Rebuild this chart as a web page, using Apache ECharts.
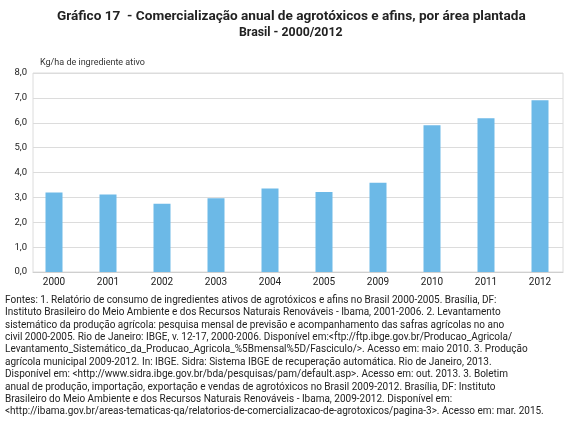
<!DOCTYPE html>
<html>
<head>
<meta charset="utf-8">
<script src="https://cdn.jsdelivr.net/npm/echarts@6/dist/echarts.min.js"></script>
<style>
html, body { margin: 0; padding: 0; background: #fff; }
#chart { width: 567px; height: 426px; }
</style>
</head>
<body>
<div id="chart"></div>
<script>
// anos e valores (kg/ha de ingrediente ativo)
var anos = ['2000', '2001', '2002', '2003', '2004', '2005', '2009', '2010', '2011', '2012'];
var valores = [3.2, 3.12, 2.74, 2.96, 3.36, 3.22, 3.59, 5.9, 6.18, 6.9];
var fontes = [
  'Fontes: 1. Relatório de consumo de ingredientes ativos de agrotóxicos e afins no Brasil 2000-2005. Brasília, DF:',
  'Instituto Brasileiro do Meio Ambiente e dos Recursos Naturais Renováveis - Ibama, 2001-2006. 2. Levantamento',
  'sistemático da produção agrícola: pesquisa mensal de previsão e acompanhamento das safras agrícolas no ano',
  'civil 2000-2005. Rio de Janeiro: IBGE, v. 12-17, 2000-2006. Disponível em:<ftp://ftp.ibge.gov.br/Producao_Agricola/',
  'Levantamento_Sistemático_da_Producao_Agricola_%5Bmensal%5D/Fasciculo/>. Acesso em: maio 2010. 3. Produção',
  'agrícola municipal 2009-2012. In: IBGE. Sidra: Sistema IBGE de recuperação automática. Rio de Janeiro, 2013.',
  'Disponível em: <http://www.sidra.ibge.gov.br/bda/pesquisas/pam/default.asp>. Acesso em: out. 2013. 3. Boletim',
  'anual de produção, importação, exportação e vendas de agrotóxicos no Brasil 2009-2012. Brasília, DF: Instituto',
  'Brasileiro do Meio Ambiente e dos Recursos Naturais Renováveis - Ibama, 2009-2012. Disponível em:',
  '<http://ibama.gov.br/areas-tematicas-qa/relatorios-de-comercializacao-de-agrotoxicos/pagina-3>. Acesso em: mar. 2015.'
];

var myChart = echarts.init(document.getElementById('chart'));
var fonte = 'Roboto, Arial, sans-serif';
var option = {
  backgroundColor: '#fff',
  animation: false,
  textStyle: { fontFamily: fonte },
  title: [
    { text: 'Gráfico 17  - Comercialização anual de agrotóxicos e afins, por área plantada', left: 57, top: 10, padding: 0,
      textStyle: { fontSize: 13.6, fontWeight: 'bold', color: '#222', fontFamily: fonte } },
    { text: 'Brasil - 2000/2012', left: 239, top: 27, padding: 0,
      textStyle: { fontSize: 12.3, fontWeight: 'bold', color: '#222', fontFamily: fonte } }
  ],
  grid: [
    // grade das barras (categorias um pouco deslocadas como no original)
    { left: 27, top: 73, width: 545, bottom: 154 },
    // moldura e linhas de grade
    { left: 33, right: 4, top: 73, bottom: 154, show: true, borderColor: '#dcdcdc', borderWidth: 1 }
  ],
  xAxis: [{
    type: 'category',
    gridIndex: 0,
    data: anos,
    axisLine: { show: false },
    axisTick: { show: false },
    axisLabel: { color: '#222', fontSize: 10, margin: 5, interval: 0 }
  }, {
    type: 'category',
    gridIndex: 1,
    data: anos,
    axisLine: { show: true, lineStyle: { color: '#cfcfcf' } },
    axisTick: { show: false },
    axisLabel: { show: false }
  }],
  yAxis: [{
    type: 'value',
    gridIndex: 0,
    min: 0, max: 8, interval: 1,
    show: false,
    splitLine: { show: false }
  }, {
    type: 'value',
    gridIndex: 1,
    min: 0, max: 8, interval: 1,
    name: 'Kg/ha de ingrediente ativo',
    nameLocation: 'end',
    nameGap: 6,
    nameTextStyle: { fontSize: 9, color: '#333', align: 'left', padding: [0, 0, 0, 7] },
    axisLine: { show: false },
    axisTick: { show: false },
    splitLine: { lineStyle: { color: '#dcdcdc' } },
    axisLabel: { color: '#222', fontSize: 9.5, margin: 6, formatter: function (v) { return v.toFixed(1).replace('.', ','); } }
  }],
  series: [{
    type: 'bar',
    xAxisIndex: 0,
    yAxisIndex: 0,
    data: valores,
    barWidth: 17,
    z: 5,
    itemStyle: { color: '#6cb9e7' }
  }],
  graphic: [{
    type: 'text',
    left: 5,
    top: 294,
    style: {
      text: fontes.join('\n'),
      font: '10px Roboto, Arial, sans-serif',
      lineHeight: 12.4,
      fill: '#222'
    }
  }]
};
myChart.setOption(option);
</script>
</body>
</html>
